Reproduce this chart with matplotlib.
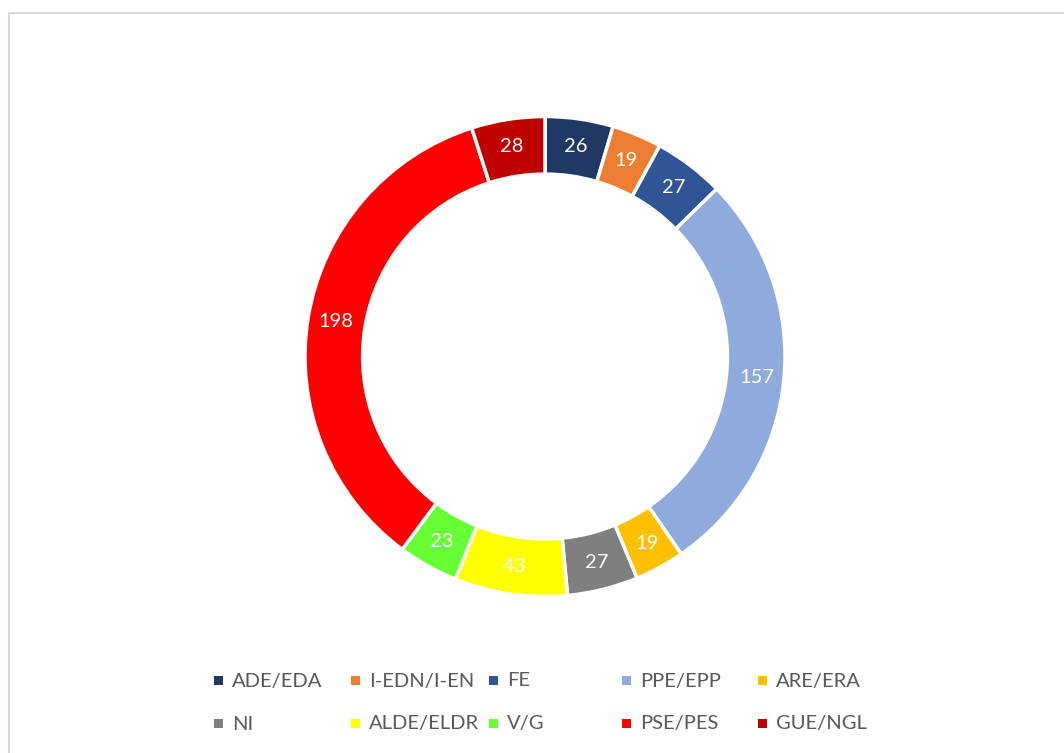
import matplotlib
matplotlib.use("Agg")
import matplotlib.pyplot as plt
from matplotlib.patches import Rectangle

# groups, seat counts and colours (clockwise from the top)
groups = ["ADE/EDA", "I-EDN/I-EN", "FE", "PPE/EPP", "ARE/ERA",
          "NI", "ALDE/ELDR", "V/G", "PSE/PES", "GUE/NGL"]
seats = [26, 19, 27, 157, 19, 27, 43, 23, 198, 28]
colors = ["#203864", "#ED7D31", "#2F5597", "#8FAADC", "#FFC000",
          "#7F7F7F", "#FFFF00", "#66FF33", "#FF0000", "#C00000"]

plt.rcParams['font.family'] = ['Lato', 'DejaVu Sans']

W, H = 1064, 753
fig = plt.figure(figsize=(W / 100, H / 100), dpi=100)

# chart frame (only left/top edges visible in the crop)
fig.add_artist(Rectangle((8.5 / W, -0.1), 1.2, 1 - 13.5 / H + 0.1,
                         transform=fig.transFigure, fill=False,
                         edgecolor="#D9D9D9", linewidth=1.5))

cx, cy, R = 545, 356.5, 240
ax = fig.add_axes([(cx - R) / W, (H - cy - R) / H, 2 * R / W, 2 * R / H])
wedges, texts = ax.pie(seats, colors=colors, startangle=90, counterclock=False,
                       radius=1, labels=[str(s) for s in seats], labeldistance=0.885,
                       wedgeprops=dict(width=0.24, edgecolor="white", linewidth=2.5),
                       textprops=dict(color="white", fontsize=14.5))
for t in texts:
    t.set_ha("center")
    t.set_va("center")
ax.set_xlim(-1, 1)
ax.set_ylim(-1, 1)
ax.axis("off")

# legend laid out on a fixed grid like the original
col_x = [218, 355, 493, 626, 762]
row_y = [681, 724]
for i, (g, c) in enumerate(zip(groups, colors)):
    x = col_x[i % 5]
    y = row_y[i // 5]
    fig.add_artist(Rectangle(((x - 4) / W, (H - y - 4) / H), 9 / W, 9 / H,
                             transform=fig.transFigure, facecolor=c, edgecolor="none"))
    fig.text((x + 14) / W, (H - y) / H, g, fontsize=14.5, color="#595959",
             ha="left", va="center")

fig.savefig("out.png", dpi=100)
